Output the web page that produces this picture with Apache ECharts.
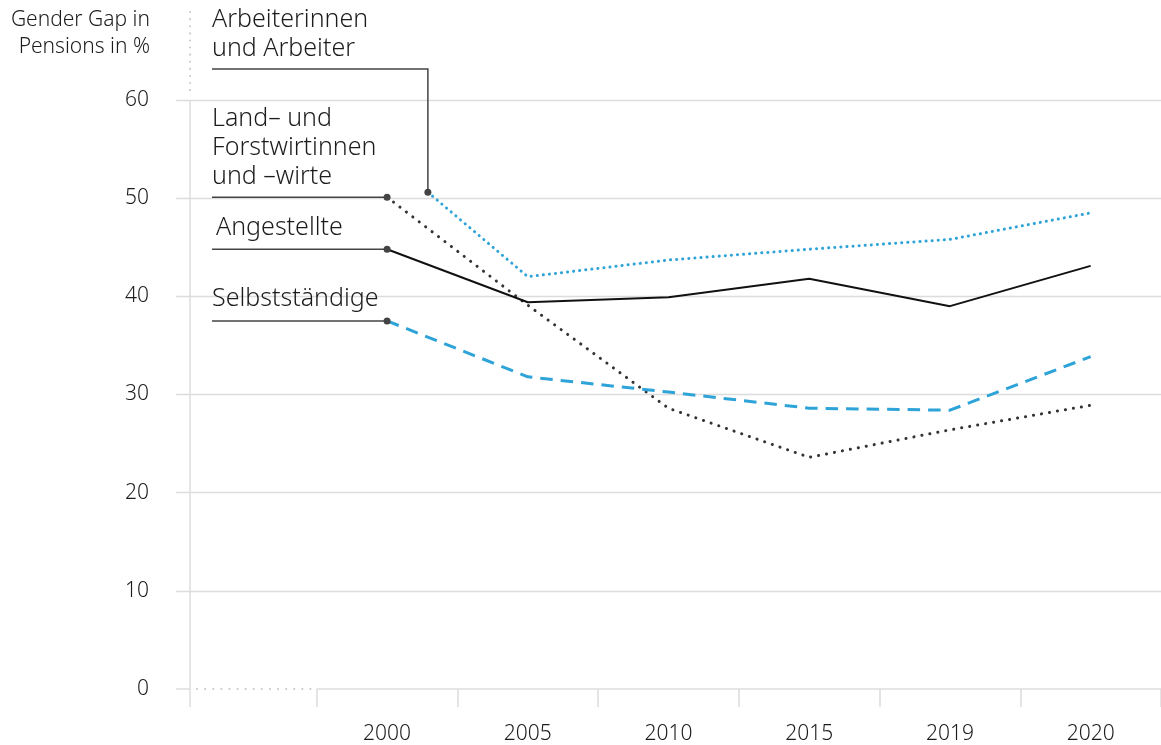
<!DOCTYPE html>
<html><head><meta charset="utf-8">
<script src="https://cdn.jsdelivr.net/npm/echarts@6/dist/echarts.min.js"></script>
<style>html,body{margin:0;padding:0;background:#fff}#c{width:1161px;height:745px}</style>
</head><body><div id="c"></div>
<script>
// ---- data ----
const categories = ['2000', '2005', '2010', '2015', '2019', '2020'];
const yTicks = [0, 10, 20, 30, 40, 50, 60];
const yTitle = 'Gender Gap in\nPensions in %';
const seriesNames = ['Arbeiterinnen\nund Arbeiter', 'Land– und\nForstwirtinnen\nund –wirte', 'Angestellte', 'Selbstständige'];
const arbeiter    = [50.6, 42.0, 43.7, 44.8, 45.8, 48.5];
const arbeiterX   = [0.29, 1, 2, 3, 4, 5];   // first point drawn slightly after 2000 in the source
const landForst   = [50.1, 39.1, 28.6, 23.6, 26.4, 28.9];
const angestellte = [44.8, 39.4, 39.9, 41.8, 39.0, 43.1];
const selbst      = [37.5, 31.8, 30.25, 28.6, 28.4, 33.85];

// ---- chart ----
const FONT = '"Noto Sans", "Open Sans", sans-serif';
const BLUE = '#2ea3d8';
const GRIDC = '#dcdcdc';
const TXT = '#1c1c1c';
const chart = echarts.init(document.getElementById('c'), null, {renderer: 'canvas'});

function pairs(xs, ys) { return ys.map((v, i) => [xs[i], v]); }
const idx = categories.map((c, i) => i);
const firstDot = (val, p) => p.dataIndex === 0 ? 7 : 0;

const option = {
  animation: false,
  backgroundColor: '#fff',
  grid: {left: 176, width: 990, top: 100, bottom: 56, containLabel: false},
  xAxis: [
    {
      type: 'category', data: [''].concat(categories), boundaryGap: true,
      axisLine: {show: false},
      axisTick: {show: true, length: 18, lineStyle: {color: GRIDC, width: 1.5},
                 interval: (i) => i > 0},
      axisLabel: {color: TXT, fontSize: 21, fontFamily: FONT, fontWeight: 300, margin: 35, interval: 0},
      splitLine: {show: false}
    },
    {type: 'value', min: -1.5, max: 5.5, show: false}
  ],
  yAxis: {
    type: 'value', min: yTicks[0], max: yTicks[yTicks.length - 1], interval: 10,
    axisLine: {show: false}, axisTick: {show: false},
    axisLabel: {color: TXT, fontSize: 21, fontFamily: FONT, fontWeight: 300, margin: 27},
    splitLine: {show: true, showMinLine: false, lineStyle: {color: GRIDC, width: 1.3}}
  },
  series: [
    {
      name: seriesNames[0], type: 'line', xAxisIndex: 1, data: pairs(arbeiterX, arbeiter),
      symbol: 'circle', symbolSize: firstDot, showSymbol: true, z: 5,
      itemStyle: {color: '#444'},
      lineStyle: {color: BLUE, width: 3, type: [0.1, 6], cap: 'round'}
    },
    {
      name: seriesNames[1], type: 'line', xAxisIndex: 1, data: pairs(idx, landForst),
      symbol: 'circle', symbolSize: firstDot, showSymbol: true, z: 5,
      itemStyle: {color: '#444'},
      lineStyle: {color: '#333', width: 3, type: [0.1, 8], cap: 'round'}
    },
    {
      name: seriesNames[2], type: 'line', xAxisIndex: 1, data: pairs(idx, angestellte),
      symbol: 'circle', symbolSize: firstDot, showSymbol: true, z: 5,
      itemStyle: {color: '#444'},
      lineStyle: {color: '#111', width: 2}
    },
    {
      name: seriesNames[3], type: 'line', xAxisIndex: 1, data: pairs(idx, selbst),
      symbol: 'circle', symbolSize: firstDot, showSymbol: true, z: 5,
      itemStyle: {color: '#444'},
      lineStyle: {color: BLUE, width: 3, type: [12.5, 8]}
    }
  ]
};
chart.setOption(option);

// ---- annotations (leader lines, labels, axis decorations) ----
const px = (x, y) => chart.convertToPixel({xAxisIndex: 1, yAxisIndex: 0}, [x, y]);
const [gl, y0] = px(-1.5, 0);
const [gr] = px(5.5, 0);
const [, y60] = px(0, 60);
const [b1] = px(-0.5, 0);
const AX = 190, LX = 212;
const lineEl = (pts, dash, color, w) => ({
  type: 'polyline', z: 1, silent: true,
  shape: {points: pts},
  style: {stroke: color, lineWidth: w, lineDash: dash || null, fill: null, lineCap: dash ? 'round' : 'butt'}
});
const textEl = (txt, x, y, size, lh, align) => ({
  type: 'text', z: 3, silent: true, x: x, y: y,
  style: {text: txt, fill: TXT, font: '300 ' + size + 'px ' + FONT, lineHeight: lh, align: align || 'left', verticalAlign: 'top'}
});
const g = [];
// zero line: solid stub, dotted first band, solid rest
g.push(lineEl([[gl, y0], [AX, y0]], null, GRIDC, 1.5));
g.push(lineEl([[AX + 7, y0], [b1 - 4, y0]], [0.1, 8], '#c8c8c8', 2));
g.push(lineEl([[b1, y0], [gr, y0]], null, GRIDC, 1.5));
// y axis line
g.push(lineEl([[AX, y60], [AX, y0 + 18]], null, GRIDC, 1.5));
g.push(lineEl([[AX, 12], [AX, y60 - 6]], [0.1, 7], '#c8c8c8', 2));
// axis title
g.push(textEl(yTitle, 150, 7, 21, 27, 'right'));
// labels and leaders
const pA = px(arbeiterX[0], arbeiter[0]);
g.push(lineEl([[LX, 69], [pA[0], 69], [pA[0], pA[1]]], null, '#444', 1.5));
g.push(textEl(seriesNames[0], LX, 5, 25, 29));
const pL = px(0, landForst[0]);
g.push(lineEl([[LX, pL[1]], [pL[0], pL[1]]], null, '#444', 1.5));
g.push(textEl(seriesNames[1], LX, 104, 25, 29));
const pG = px(0, angestellte[0]);
g.push(lineEl([[LX, pG[1]], [pG[0], pG[1]]], null, '#444', 1.5));
g.push(textEl(seriesNames[2], LX + 4, 213, 25, 29));
const pS = px(0, selbst[0]);
g.push(lineEl([[LX, pS[1]], [pS[0], pS[1]]], null, '#444', 1.5));
g.push(textEl(seriesNames[3], LX, 284, 25, 29));
chart.setOption({graphic: {elements: g}});
</script>
</body></html>
